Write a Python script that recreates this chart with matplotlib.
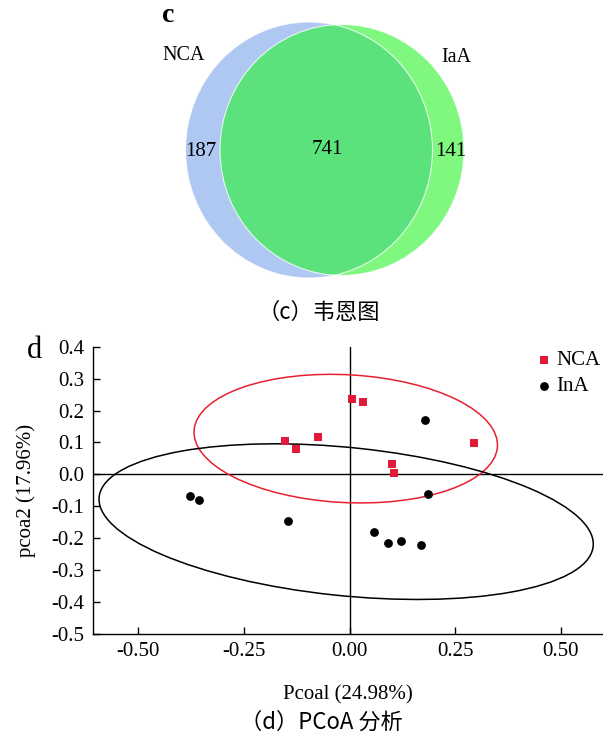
import numpy as np
import matplotlib.pyplot as plt
from matplotlib.patches import Ellipse

plt.rcParams['font.family'] = ['Liberation Serif', 'DejaVu Serif']
CJK = ['Noto Sans CJK SC', 'DejaVu Sans']

# Venn counts (c)
venn_sets = ['NCA', 'IaA']
venn_counts = [187, 741, 141]   # NCA only, shared, IaA only

# PCoA scores (d)
nca_x = [0.007, 0.033, -0.153, -0.126, -0.074, 0.294, 0.101, 0.105]
nca_y = [0.236, 0.227, 0.106, 0.080, 0.116, 0.098, 0.034, 0.004]
ina_x = [0.179, 0.185, -0.378, -0.357, -0.145, 0.057, 0.092, 0.123, 0.170]
ina_y = [0.170, -0.061, -0.068, -0.079, -0.146, -0.182, -0.216, -0.209, -0.221]

# group ellipses: centre x, centre y, width, height, angle (deg)
nca_ell = [-0.009, 0.112, 0.72, 0.40, -4.6]
ina_ell = [-0.008, -0.148, 1.18, 0.463, -8.1]

x_ticks = [-0.50, -0.25, 0.00, 0.25, 0.50]
y_ticks = [0.4, 0.3, 0.2, 0.1, 0.0, -0.1, -0.2, -0.3, -0.4, -0.5]

W, H = 603, 742
fig = plt.figure(figsize=(W / 100, H / 100), dpi=100)

# ---- (c) Venn diagram, axes in pixel units of the top block ----
top_h = 330
axv = fig.add_axes([0, 1 - top_h / H, 1, top_h / H])
axv.set_xlim(0, W)
axv.set_ylim(top_h, 0)
axv.axis('off')

blue = '#afc8f2'
green = '#80f880'
both = '#5ce27c'
c_blue = Ellipse((309, 150), 247, 256, facecolor=blue, edgecolor='none')
c_green = Ellipse((342, 150), 244, 251, facecolor=green, edgecolor='none')
axv.add_patch(c_blue)
axv.add_patch(c_green)
lens = Ellipse((309, 150), 247, 256, facecolor=both, edgecolor='none')
axv.add_patch(lens)
lens.set_clip_path(c_green)
axv.add_patch(Ellipse((309, 150), 247, 256, facecolor='none', edgecolor='white', lw=0.8, alpha=0.8))
axv.add_patch(Ellipse((342, 150), 244, 251, facecolor='none', edgecolor='white', lw=0.8, alpha=0.8))

axv.text(201, 151, str(venn_counts[0]), fontsize=15, ha='center', va='center')
axv.text(327, 150, str(venn_counts[1]), fontsize=15, ha='center', va='center')
axv.text(451, 151, str(venn_counts[2]), fontsize=15, ha='center', va='center')
axv.text(184, 56, venn_sets[0], fontsize=14.5, ha='center', va='center')
axv.text(456, 58, venn_sets[1], fontsize=14.5, ha='center', va='center')
axv.text(168, 16, 'c', fontsize=20, fontweight='bold', ha='center', va='center')
axv.text(319, 312, '（c）韦恩图', fontsize=16, ha='center', va='center', family=CJK)

# ---- (d) PCoA ----
ax = fig.add_axes([92.7 / W, (H - 634) / H, (W - 92.7) / W, 287.3 / H])
ax.set_xlim(-0.608, 0.6)
ax.set_ylim(-0.5, 0.4)

ax.axhline(0, color='black', lw=1.0, zorder=1)
ax.axvline(0, color='black', lw=1.0, zorder=1)

red = '#e31b3b'
for (cx, cy, w, h, ang), col in [(nca_ell, '#e8202f'), (ina_ell, 'black')]:
    ax.add_patch(Ellipse((cx, cy), w, h, angle=ang, facecolor='none',
                         edgecolor=col, lw=1.1, zorder=2))

ax.scatter(nca_x, nca_y, marker='s', s=30, color=red, label='NCA', zorder=3, linewidths=0)
ax.scatter(ina_x, ina_y, marker='o', s=40, color='black', label='InA', zorder=3, linewidths=0)

ax.set_xticks(x_ticks)
ax.set_xticklabels(['%.2f' % v for v in x_ticks])
ax.set_yticks(y_ticks)
ax.set_yticklabels(['%.1f' % v for v in y_ticks])
ax.tick_params(direction='in', length=5, width=1, labelsize=15, pad=6)
for s in ['top', 'right']:
    ax.spines[s].set_visible(False)
for s in ['left', 'bottom']:
    ax.spines[s].set_linewidth(1)

ax.set_xlabel('Pcoal (24.98%)', fontsize=15, labelpad=17)
ax.set_ylabel('pcoa2 (17.96%)', fontsize=15, labelpad=11)

ax.legend(loc='upper right', bbox_to_anchor=(1.02, 1.03), frameon=False, fontsize=15,
          handletextpad=0.0, labelspacing=0.3, borderaxespad=0.2, handlelength=1.2)

fig.text(35 / W, 1 - 351 / H, 'd', fontsize=22, ha='center', va='center')
fig.text(321 / W, 1 - 722 / H, '（d）PCoA 分析', fontsize=16, ha='center', va='center', family=CJK)

fig.savefig('out.png', dpi=100)
